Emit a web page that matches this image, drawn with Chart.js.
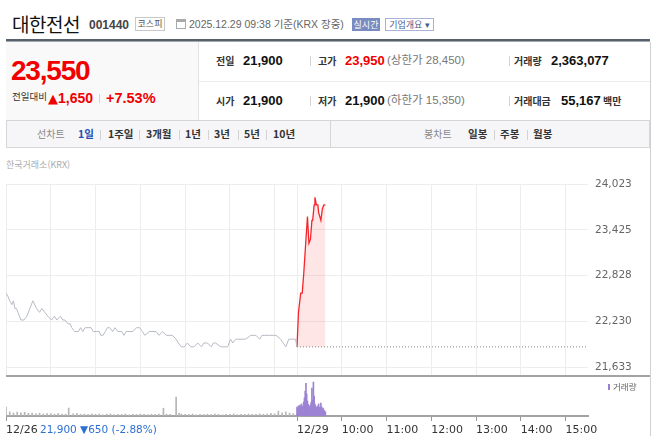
<!DOCTYPE html>
<html lang="ko">
<head>
<meta charset="utf-8">
<title>대한전선 001440</title>
<script src="https://cdn.jsdelivr.net/npm/chart.js@4.4.1/dist/chart.umd.min.js"></script>
<style>
  body { margin: 0; width: 660px; height: 436px; overflow: hidden; background: #fff; position: relative;
         font-family: "Noto Sans CJK KR", sans-serif; }
  .a { position: absolute; white-space: nowrap; line-height: 1; }
  .n { font-family: "Liberation Sans", "Noto Sans CJK KR", sans-serif; }
  .lb { font-size: 10px; font-weight: bold; color: #333; }
  .v { font-size: 13px; font-weight: bold; color: #111; }
  .red { color: #f20000; }
  .sub { font-size: 11.5px; color: #777; }
  .bar { position: absolute; width: 1px; background: #d3d3d3; }
  .tab { position: absolute; top: 129px; line-height: 1; font-size: 10.5px; font-weight: bold; color: #333; white-space: nowrap; }
  .tg { font-weight: normal; color: #888; font-size: 10px; }
  canvas { position: absolute; }
</style>
</head>
<body>
<!-- header -->
<div class="a" style="left:12px;top:14px;font-size:19px;color:#111;letter-spacing:-0.5px;">대한전선</div>
<div class="a n" style="left:89px;top:19px;font-size:12px;font-weight:bold;color:#444;">001440</div>
<div class="a" style="left:135px;top:17px;width:30px;height:14px;box-sizing:border-box;border:1px solid #c8c8c8;font-size:9px;color:#555;text-align:center;line-height:12px;">코스피</div>
<div class="a" style="left:176px;top:19px;width:10px;height:10px;box-sizing:border-box;border:1px solid #aaa;border-top:3px solid #aaa;"></div>
<div class="a n" style="left:189px;top:19px;font-size:10.5px;color:#666;">2025.12.29 09:38 기준(KRX 장중)</div>
<div class="a" style="left:352px;top:18px;width:28px;height:13px;background:#7a8bc1;color:#fff;font-size:9px;text-align:center;line-height:13px;">실시간</div>
<div class="a" style="left:385px;top:18px;width:49px;height:13px;box-sizing:border-box;border:1px solid #a8b3d6;color:#4b5a8c;font-size:9px;text-align:center;line-height:11px;">기업개요 ▾</div>
<div class="a" style="left:6px;top:39px;width:644px;height:2px;background:#58606b;"></div>
<div class="a" style="left:6px;top:41px;width:644px;height:1px;background:#a3a8b0;"></div>

<!-- price box -->
<div class="a" style="left:6px;top:42px;width:192px;height:78px;background:#f9f9f9;border-right:1px solid #e2e2e2;"></div>
<div class="a n red" style="left:11px;top:57px;font-size:28px;font-weight:bold;letter-spacing:-1.2px;">23,550</div>
<div class="a" style="left:12px;top:92px;font-size:9.5px;color:#333;">전일대비</div>
<div class="a n red" style="left:48px;top:91px;font-size:14px;font-weight:bold;"><span style="font-family:'DejaVu Sans';font-size:13px;">▲</span>1,650</div>
<div class="bar" style="left:99px;top:94px;height:9px;"></div>
<div class="a n red" style="left:106px;top:91px;font-size:14.5px;font-weight:bold;">+7.53%</div>

<!-- info rows -->
<div class="a" style="left:199px;top:81px;width:451px;height:1px;background:#ececec;"></div>
<div class="a" style="left:650px;top:42px;width:1px;height:394px;background:#d0d0d0;"></div>

<div class="a lb" style="left:216px;top:56px;">전일</div>
<div class="a n v" style="left:243px;top:54px;">21,900</div>
<div class="bar" style="left:310px;top:56px;height:10px;"></div>
<div class="a lb" style="left:318px;top:56px;">고가</div>
<div class="a n v red" style="left:345px;top:54px;">23,950</div>
<div class="a n sub" style="left:387px;top:55px;">(상한가 28,450)</div>
<div class="bar" style="left:509px;top:56px;height:10px;"></div>
<div class="a lb" style="left:514px;top:56px;">거래량</div>
<div class="a n v" style="left:551px;top:54px;">2,363,077</div>

<div class="a lb" style="left:216px;top:96px;">시가</div>
<div class="a n v" style="left:243px;top:94px;">21,900</div>
<div class="bar" style="left:310px;top:96px;height:10px;"></div>
<div class="a lb" style="left:318px;top:96px;">저가</div>
<div class="a n v" style="left:345px;top:94px;">21,900</div>
<div class="a n sub" style="left:387px;top:95px;">(하한가 15,350)</div>
<div class="bar" style="left:509px;top:96px;height:10px;"></div>
<div class="a lb" style="left:514px;top:96px;">거래대금</div>
<div class="a n v" style="left:561px;top:94px;">55,167</div>
<div class="a lb" style="left:603px;top:96px;">백만</div>

<!-- tabs -->
<div class="a" style="left:6px;top:120px;width:644px;height:28px;box-sizing:border-box;border:1px solid #d6d6d6;background:#f6f6f8;"></div>
<div class="a" style="left:330px;top:121px;width:1px;height:26px;background:#d6d6d6;"></div>
<div class="tab tg" style="left:37px;">선차트</div>
<div class="tab" style="left:78px;color:#1f4fb5;">1일</div>
<div class="bar" style="left:100px;top:130px;height:10px;"></div>
<div class="tab" style="left:108px;">1주일</div>
<div class="bar" style="left:139px;top:130px;height:10px;"></div>
<div class="tab" style="left:146px;">3개월</div>
<div class="bar" style="left:179px;top:130px;height:10px;"></div>
<div class="tab" style="left:185px;">1년</div>
<div class="bar" style="left:208px;top:130px;height:10px;"></div>
<div class="tab" style="left:214px;">3년</div>
<div class="bar" style="left:238px;top:130px;height:10px;"></div>
<div class="tab" style="left:244px;">5년</div>
<div class="bar" style="left:266px;top:130px;height:10px;"></div>
<div class="tab" style="left:273px;">10년</div>
<div class="tab tg" style="left:424px;">봉차트</div>
<div class="tab" style="left:468px;">일봉</div>
<div class="bar" style="left:494px;top:130px;height:10px;"></div>
<div class="tab" style="left:500px;">주봉</div>
<div class="bar" style="left:527px;top:130px;height:10px;"></div>
<div class="tab" style="left:533px;">월봉</div>

<!-- chart panel -->
<div class="a" style="left:6px;top:160px;font-size:9px;color:#aaa;">한국거래소(KRX)</div>
<canvas id="price" width="644" height="201" style="left:6px;top:174px;"></canvas>
<div class="a" style="left:6px;top:375px;width:644px;height:2px;background:#a3a3a3;"></div>
<canvas id="volume" width="644" height="59" style="left:6px;top:377px;"></canvas>
<div class="a" style="left:608px;top:384px;width:2px;height:6px;background:#9b80d0;"></div>
<div class="a" style="left:613px;top:382px;font-size:8.5px;color:#666;">거래량</div>
<div class="a" style="left:40px;top:424px;font-family:'DejaVu Sans';font-size:10.5px;color:#2d6fd2;">21,900 ▼650 (-2.88%)</div>

<script>
// minutes from 12/26 09:00 ; 12/29 09:00 = 390
const prevMinutes = [0, 3, 5, 8, 10, 12, 14, 16, 18, 20,
  24, 28, 32, 36, 41, 45, 48, 52, 56, 61,
  65, 68, 73, 76, 79, 83, 86, 88, 92, 97,
  100, 103, 106, 110, 114, 117, 121, 125, 127, 130,
  133, 136, 139, 143, 146, 150, 155, 158, 161, 165,
  170, 175, 179, 183, 186, 192, 201, 205, 210, 215,
  223, 228, 231, 235, 239, 243, 248, 252, 257, 262,
  265, 270, 275, 278, 281, 288, 297, 301, 304, 308,
  315, 321, 328, 335, 340, 343, 346, 353, 362, 368,
  375, 379, 388, 390];
const prevPrices = [22600, 22550, 22500, 22450, 22500, 22400, 22400, 22350, 22300, 22250,
  22250, 22300, 22400, 22500, 22400, 22350, 22400, 22350, 22300, 22250,
  22300, 22250, 22300, 22250, 22250, 22200, 22200, 22150, 22100, 22100,
  22150, 22100, 22150, 22150, 22150, 22100, 22100, 22100, 22050, 22050,
  22100, 22150, 22150, 22100, 22150, 22100, 22100, 22050, 22100, 22100,
  22100, 22150, 22150, 22100, 22050, 22100, 22100, 22050, 22100, 22050,
  22050, 22000, 21950, 21900, 21900, 21950, 21900, 21900, 21950, 21900,
  21950, 21950, 21900, 21950, 21950, 21900, 21900, 22000, 21950, 22000,
  22000, 22000, 22050, 22050, 22000, 22050, 22050, 22050, 22050, 22000,
  21900, 22000, 22000, 21900];

const todayMinutes = [390, 392, 395, 397, 399, 401, 402, 404, 406, 408, 410, 411, 413, 414, 416, 418, 419, 422, 424, 426, 428];
const todayPrices = [21900, 22350, 22600, 22600, 22850, 23150, 23150, 23600, 23250, 23300, 23550,
  23550, 23750, 23850, 23750, 23750, 23650, 23550, 23700, 23750, 23750];

const prevClose = 21900;
const prevCloseMinutes = [390, 780];

const prevVolMinutes = [0, 5, 10, 15, 20, 25, 30, 35, 40, 45, 50, 55, 60, 65, 70, 75, 80, 84, 90, 95,
  100, 105, 110, 115, 120, 125, 130, 135, 140, 145, 150, 155, 160, 165, 170, 175, 180, 185, 190, 195,
  200, 205, 211, 215, 220, 228, 232, 235, 240, 245, 250, 255, 260, 265, 270, 275, 280, 285, 290, 295,
  300, 305, 310, 315, 320, 325, 330, 335, 340, 345, 350, 355, 360, 365, 370, 375, 380, 385];
const prevVolumes = [46000, 21000, 15000, 20000, 16000, 19000, 14000, 15000, 11000, 14000,
  10000, 13000, 12000, 9000, 13000, 10000, 9000, 41000, 11000, 14000,
  9000, 10000, 8000, 11000, 9000, 10000, 6000, 9000, 10000, 7000,
  9000, 8000, 10000, 6000, 9000, 8000, 10000, 9000, 7000, 9000,
  8000, 10000, 40000, 9000, 8000, 97000, 14000, 10000, 9000, 8000,
  10000, 6000, 9000, 8000, 9000, 7000, 10000, 8000, 6000, 9000,
  8000, 10000, 7000, 9000, 8000, 10000, 9000, 8000, 11000, 9000,
  10000, 14000, 11000, 25000, 16000, 21000, 15000, 12000];

const todayVolMinutes = [390, 391, 392, 393, 394, 395, 396, 397, 398, 399, 400, 401, 402, 403, 404,
  405, 406, 407, 408, 409, 410, 411, 412, 413, 414, 415, 416, 417, 418, 419, 420, 421, 422, 423, 424,
  425, 426, 427, 428];
const todayVolumes = [46000, 41000, 52000, 47000, 56000, 50000, 62000, 51000, 45000, 72000,
  93000, 128000, 168000, 113000, 77000, 60000, 52000, 46000, 57000, 71000,
  143000, 82000, 174000, 102000, 61000, 52000, 45000, 41000, 51000, 62000,
  46000, 40000, 66000, 47000, 36000, 41000, 30000, 26000, 21000];

const yTicks = [21633, 22230, 22828, 23425, 24023];
const yTickLabels = ['21,633', '22,230', '22,828', '23,425', '24,023'];
const gridMinutes = [0, 60, 120, 180, 240, 300, 360, 390, 450, 510, 570, 630, 690, 750];
const xLabelMinutes = [0, 390, 450, 510, 570, 630, 690, 750];
const xTickLabels = ['12/26', '12/29', '10:00', '11:00', '12:00', '13:00', '14:00', '15:00'];

const pts = (xs, ys) => xs.map((x, i) => ({ x: x, y: ys[i] }));

// price chart
new Chart(document.getElementById('price'), {
  type: 'line',
  data: {
    datasets: [
      { data: pts(prevMinutes, prevPrices), borderColor: '#b7bbc5', borderWidth: 1, pointRadius: 0, tension: 0 },
      { data: pts(todayMinutes, todayPrices), borderColor: '#f5262b', borderWidth: 1.3, pointRadius: 0, tension: 0,
        fill: { value: prevClose }, backgroundColor: 'rgba(250, 70, 80, 0.14)' },
      { data: prevCloseMinutes.map(m => ({ x: m, y: prevClose })), borderColor: '#8a8a8a', borderWidth: 1,
        borderDash: [1, 2], pointRadius: 0 }
    ]
  },
  options: {
    responsive: false, animation: false, devicePixelRatio: 1,
    layout: { padding: { top: 10, left: 0, right: 0, bottom: 0 } },
    plugins: { legend: { display: false }, tooltip: { enabled: false } },
    scales: {
      x: {
        type: 'linear', min: 0, max: 780,
        ticks: { display: false },
        grid: { color: '#ededed', drawTicks: false },
        border: { display: false },
        afterBuildTicks: s => { s.ticks = gridMinutes.map(v => ({ value: v })); },
        afterFit: s => { s.height = 0; s.paddingLeft = 0; s.paddingRight = 0; }
      },
      y: {
        position: 'right', min: 21533, max: 24023,
        afterBuildTicks: s => { s.ticks = yTicks.map(v => ({ value: v })); },
        afterFit: s => { s.width = 62; s.paddingTop = 0; s.paddingBottom = 0; },
        ticks: { callback: (v, i) => yTickLabels[i], color: '#666', padding: 7,
                 font: { family: 'DejaVu Sans', size: 10.5 } },
        grid: { color: '#ededed', drawTicks: false },
        border: { display: false }
      }
    }
  }
});

// volume chart
new Chart(document.getElementById('volume'), {
  type: 'bar',
  data: {
    datasets: [
      { data: pts(prevVolMinutes, prevVolumes), backgroundColor: '#b5b5b5', barThickness: 1, grouped: false },
      { data: pts(todayVolMinutes, todayVolumes), backgroundColor: '#9c84d3', barThickness: 1, grouped: false }
    ]
  },
  options: {
    responsive: false, animation: false, devicePixelRatio: 1,
    layout: { padding: { top: 0, left: 0, right: 62, bottom: 0 } },
    plugins: { legend: { display: false }, tooltip: { enabled: false } },
    scales: {
      x: {
        type: 'linear', min: 0, max: 780, offset: false,
        afterBuildTicks: s => { s.ticks = xLabelMinutes.map(v => ({ value: v })); },
        afterFit: s => { s.height = 20; s.paddingLeft = 0; s.paddingRight = 0; },
        ticks: { callback: (v, i) => xTickLabels[i], autoSkip: false, maxRotation: 0, align: 'start',
                 color: '#333', padding: 3, font: { family: 'DejaVu Sans', size: 11 } },
        grid: { drawOnChartArea: false, drawTicks: true, tickLength: 5, color: '#999', offset: false },
        border: { display: true, color: '#a3a3a3', width: 2 }
      },
      y: { display: false, min: 0, max: 200000 }
    }
  }
});
</script>
</body>
</html>
